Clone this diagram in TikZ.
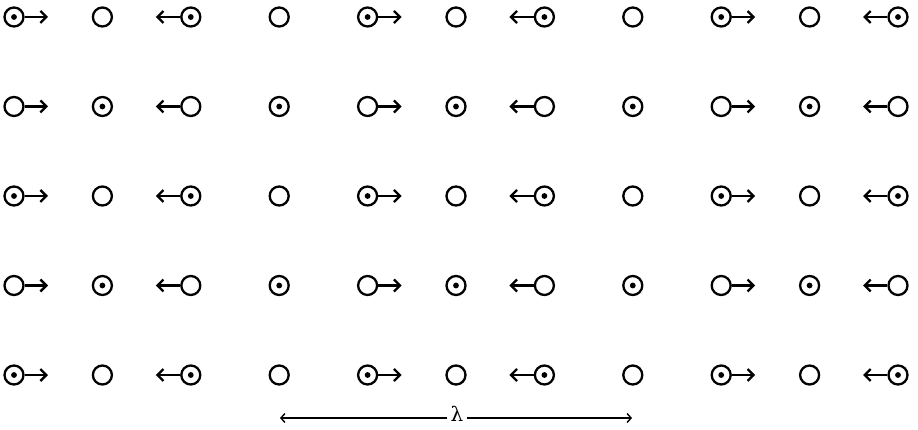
\documentclass[tikz,border=0pt]{standalone}
\usepackage{fontspec}
\newfontfamily\lamfont{DejaVu Serif}
\usetikzlibrary{arrows.meta}
\begin{document}
\begin{tikzpicture}[x=1pt,y=-1pt,
  spin/.style={circle,draw,line width=2.3pt,minimum size=19pt,inner sep=0pt},
  spinc/.style={spin,path picture={\fill (path picture bounding box.center) circle (2.9pt);}},
  flow/.style={line width=2.3pt,-{Straight Barb[length=6pt,width=12pt,line width=2.3pt]}},
  wave/.style={line width=1.4pt,-{Straight Barb[length=4pt,width=9pt,line width=1.4pt]}}]
\useasboundingbox (0,0) rectangle (918,430);
\foreach \i in {0,...,10}{
  \foreach \j in {0,...,4}{
    \pgfmathsetmacro{\xx}{14+88.4*\i}
    \pgfmathsetmacro{\yy}{17+89.5*\j}
    \pgfmathtruncatemacro{\pty}{mod(\i+\j,2)}
    \pgfmathtruncatemacro{\mm}{mod(\i,4)}
    \ifnum\pty=0
      \node[spinc] (c-\i-\j) at (\xx,\yy) {};
    \else
      \node[spin] (c-\i-\j) at (\xx,\yy) {};
    \fi
    \ifnum\mm=0
      \coordinate (t-\i-\j) at ([xshift=34pt]c-\i-\j.center);
      \draw[flow] (c-\i-\j.east) -- (t-\i-\j);
    \fi
    \ifnum\mm=2
      \coordinate (t-\i-\j) at ([xshift=-35pt]c-\i-\j.center);
      \draw[flow] (c-\i-\j.west) -- (t-\i-\j);
    \fi
  }
}
\node[inner sep=3pt,font=\fontsize{20}{24}\selectfont\lamfont] (lam) at (457,414) {λ};
\coordinate (lamL) at (280,418);
\coordinate (lamR) at (632,418);
\draw[wave] (lam.west |- lamL) -- (lamL);
\draw[wave] (lam.east |- lamR) -- (lamR);
\end{tikzpicture}
\end{document}
